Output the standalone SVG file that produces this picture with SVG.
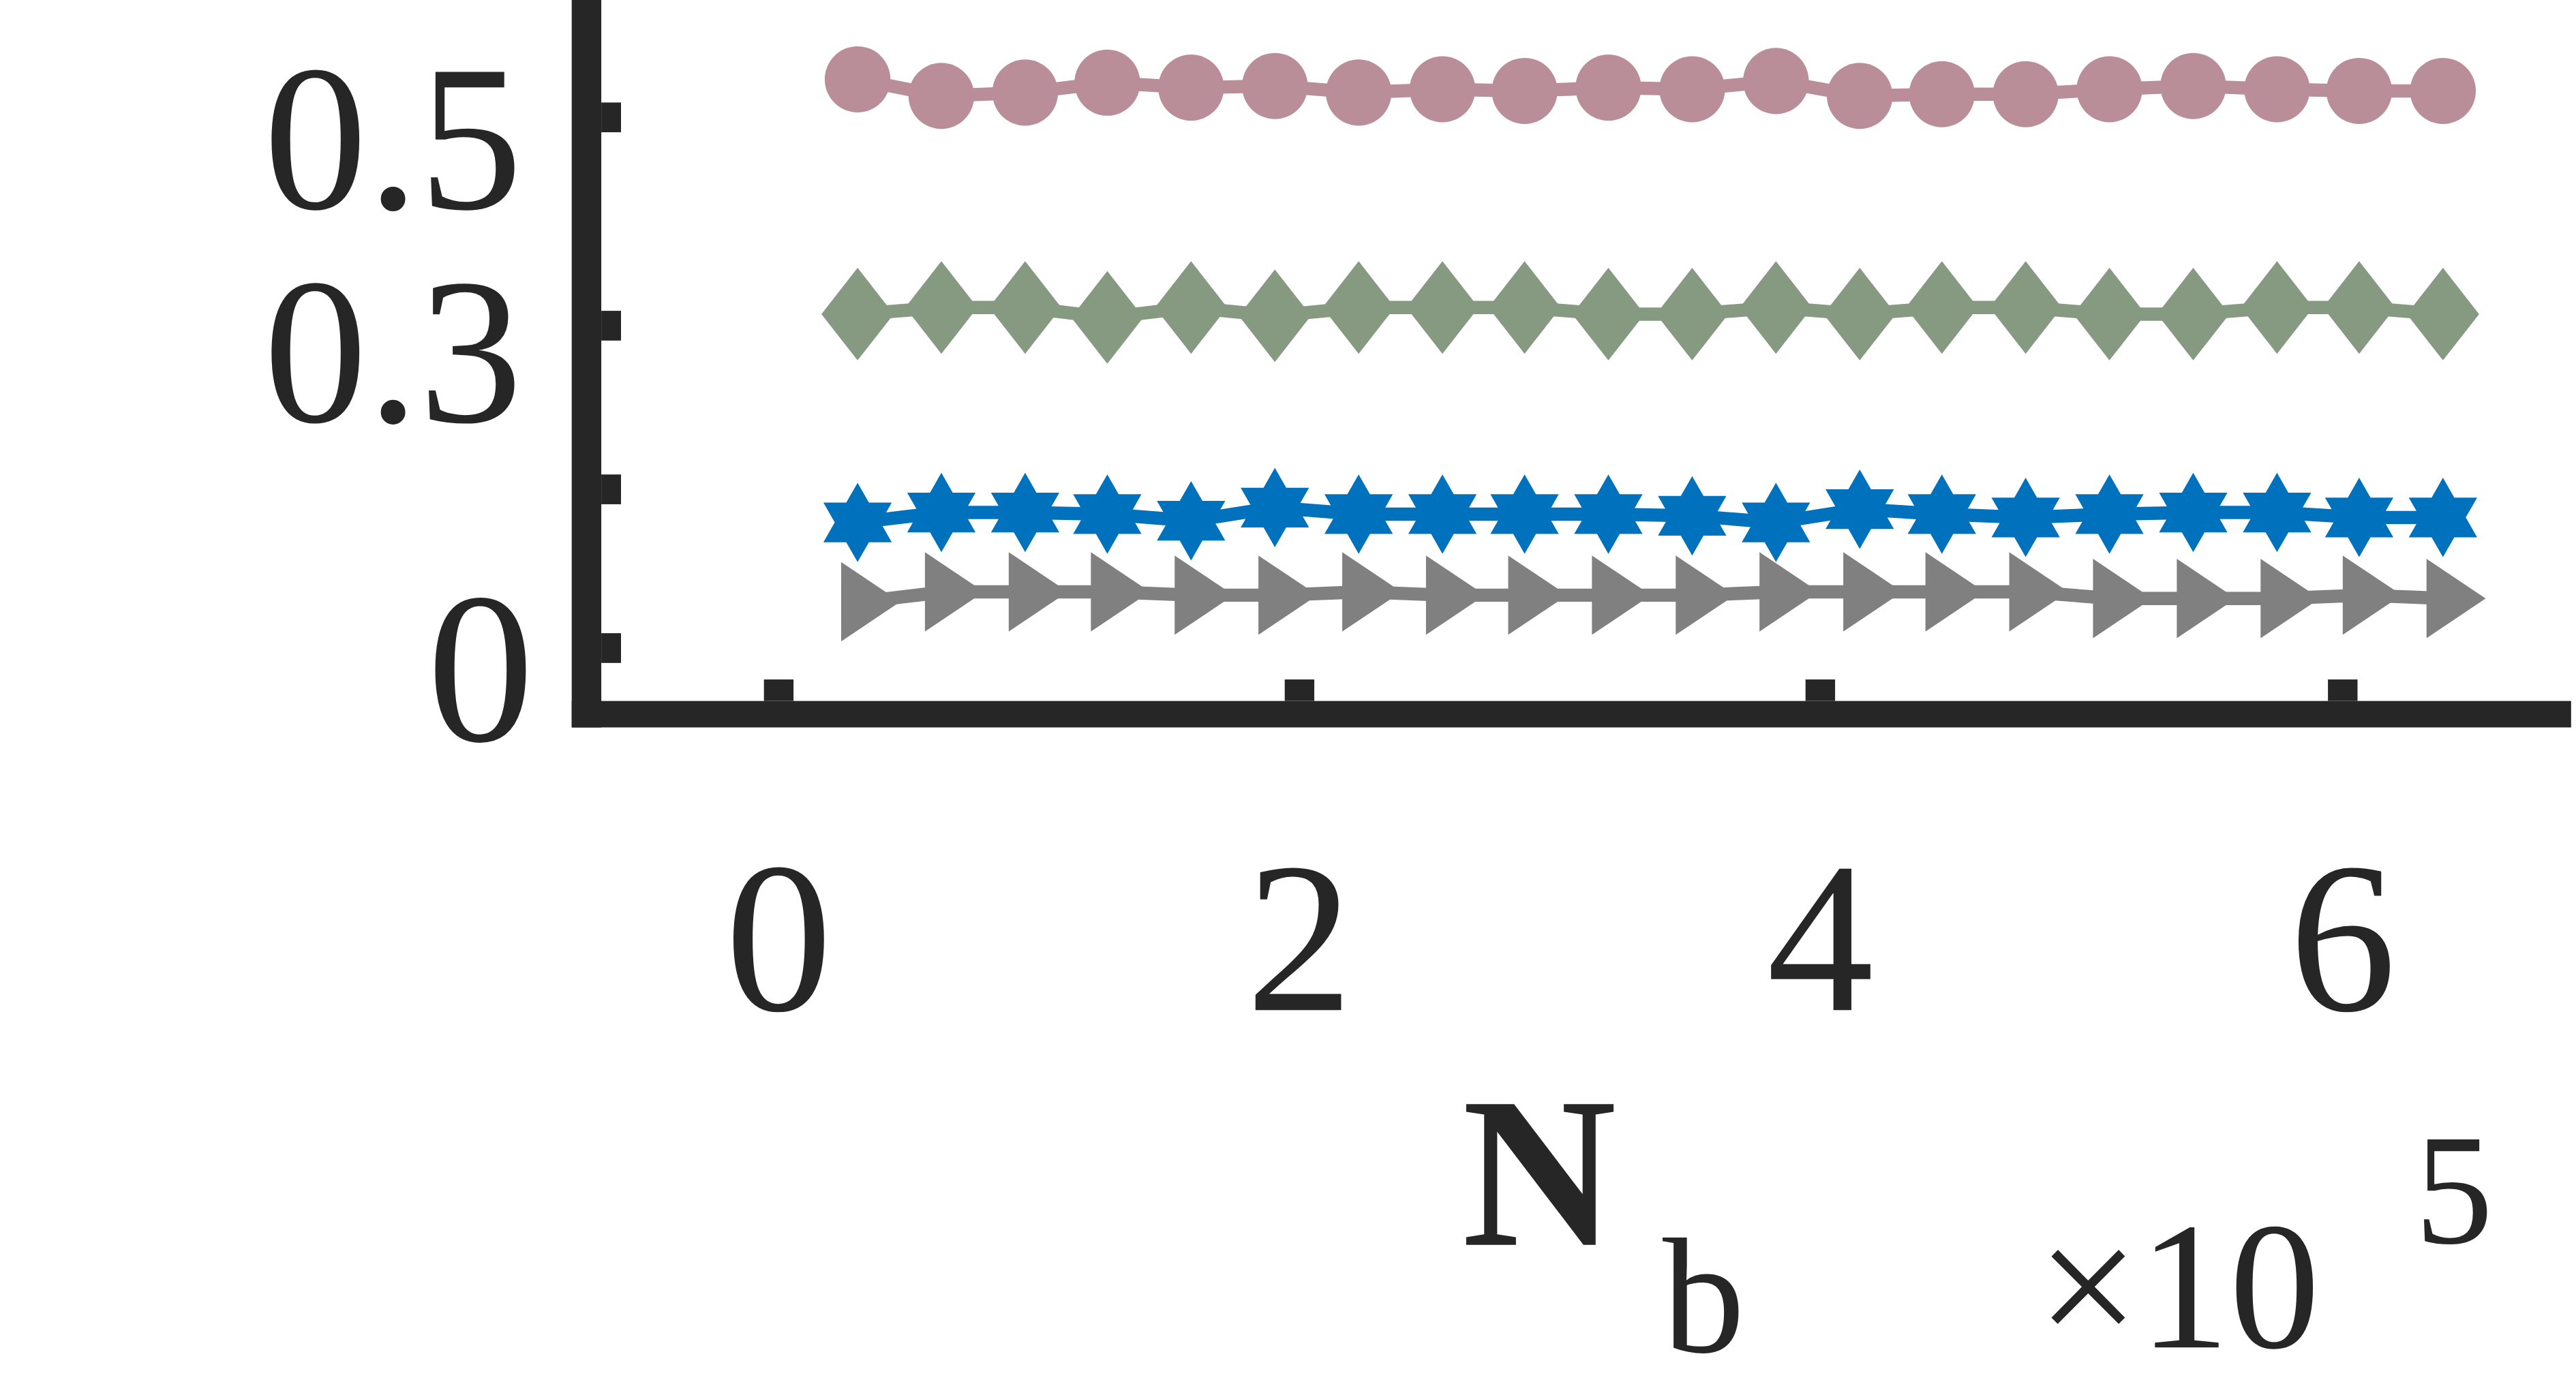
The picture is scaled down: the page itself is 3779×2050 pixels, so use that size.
<svg xmlns="http://www.w3.org/2000/svg" width="3779" height="2050" viewBox="0 0 3779 2050">
<style>
text{font-family:"Liberation Serif","Times New Roman",serif;fill:#262626}
.ax{fill:#262626}
</style>
<defs>
<circle id="mc" r="20" fill="#BA8E99"/>
<polygon id="md" points="0,-28 22,0 0,28 -22,0" fill="#869A82"/>
<polygon id="mh" points="0,-24 6.9,-12 20.8,-12 13.9,0 20.8,12 6.9,12 0,24 -6.9,12 -20.8,12 -13.9,0 -20.8,-12 -6.9,-12" fill="#0072BD"/>
<polygon id="mt" points="-12,-24 24,0 -12,24" fill="#808080"/>
</defs>
<rect width="3779" height="2050" fill="#fff"/>
<g transform="scale(2.4101,2.426)">
<g id="axes">
<rect class="ax" x="348" y="0" width="18" height="440"/>
<rect class="ax" x="348" y="424" width="1217" height="16"/>
<rect class="ax" x="366" y="62" width="12" height="18"/>
<rect class="ax" x="366" y="188" width="12" height="18"/>
<rect class="ax" x="366" y="287" width="12" height="18"/>
<rect class="ax" x="366" y="383" width="12" height="18"/>
<rect class="ax" x="465" y="411" width="18" height="13"/>
<rect class="ax" x="782" y="411" width="18" height="13"/>
<rect class="ax" x="1099" y="411" width="18" height="13"/>
<rect class="ax" x="1417" y="411" width="18" height="13"/>
</g>
<g id="labels">
<text x="318" y="126" font-size="126" text-anchor="end">0.5</text>
<text x="318" y="255" font-size="126" text-anchor="end">0.3</text>
<text x="325" y="448" font-size="130" text-anchor="end">0</text>
<text x="474" y="611" font-size="130" text-anchor="middle">0</text>
<text x="791" y="611" font-size="130" text-anchor="middle">2</text>
<text x="1108" y="611" font-size="130" text-anchor="middle">4</text>
<text x="1426" y="611" font-size="130" text-anchor="middle">6</text>
<text x="890" y="753" font-size="130" font-weight="bold">N</text>
<text x="1012" y="818" font-size="100">b</text>
<text x="1240" y="815" font-size="110">×10</text>
<text x="1470" y="752" font-size="95">5</text>
</g>
<g id="series" stroke-width="8" fill="none">
<polyline stroke="#BA8E99" points="522,48 573,58 624,56 674,50 725,53 776,52 827,56 878,54 928,55 979,53 1030,54 1081,49 1132,58 1182,57 1233,57 1284,54 1335,52 1386,54 1436,55 1487,55"/>
<polyline stroke="#869A82" points="522,190 573,186 624,186 674,192 725,186 776,191 827,186 878,186 928,186 979,190 1030,190 1081,186 1132,190 1182,186 1233,186 1284,190 1335,190 1386,186 1436,186 1487,190"/>
<polyline stroke="#0072BD" points="522,316 573,310 624,310 674,311 725,315 776,307 827,311 878,311 928,311 979,311 1030,312 1081,316 1132,308 1182,311 1233,313 1284,311 1335,310 1386,310 1436,313 1487,313"/>
<polyline stroke="#808080" points="524,364 575,358 626,358 676,358 727,360 778,360 829,358 880,360 930,360 981,360 1032,360 1083,358 1134,358 1184,358 1235,358 1286,362 1337,362 1388,362 1438,360 1489,362"/>
</g>
<g id="markers">
<use href="#mc" x="522" y="48"/><use href="#mc" x="573" y="58"/><use href="#mc" x="624" y="56"/><use href="#mc" x="674" y="50"/><use href="#mc" x="725" y="53"/><use href="#mc" x="776" y="52"/><use href="#mc" x="827" y="56"/><use href="#mc" x="878" y="54"/><use href="#mc" x="928" y="55"/><use href="#mc" x="979" y="53"/><use href="#mc" x="1030" y="54"/><use href="#mc" x="1081" y="49"/><use href="#mc" x="1132" y="58"/><use href="#mc" x="1182" y="57"/><use href="#mc" x="1233" y="57"/><use href="#mc" x="1284" y="54"/><use href="#mc" x="1335" y="52"/><use href="#mc" x="1386" y="54"/><use href="#mc" x="1436" y="55"/><use href="#mc" x="1487" y="55"/>
<use href="#md" x="522" y="190"/><use href="#md" x="573" y="186"/><use href="#md" x="624" y="186"/><use href="#md" x="674" y="192"/><use href="#md" x="725" y="186"/><use href="#md" x="776" y="191"/><use href="#md" x="827" y="186"/><use href="#md" x="878" y="186"/><use href="#md" x="928" y="186"/><use href="#md" x="979" y="190"/><use href="#md" x="1030" y="190"/><use href="#md" x="1081" y="186"/><use href="#md" x="1132" y="190"/><use href="#md" x="1182" y="186"/><use href="#md" x="1233" y="186"/><use href="#md" x="1284" y="190"/><use href="#md" x="1335" y="190"/><use href="#md" x="1386" y="186"/><use href="#md" x="1436" y="186"/><use href="#md" x="1487" y="190"/>
<use href="#mh" x="522" y="316"/><use href="#mh" x="573" y="310"/><use href="#mh" x="624" y="310"/><use href="#mh" x="674" y="311"/><use href="#mh" x="725" y="315"/><use href="#mh" x="776" y="307"/><use href="#mh" x="827" y="311"/><use href="#mh" x="878" y="311"/><use href="#mh" x="928" y="311"/><use href="#mh" x="979" y="311"/><use href="#mh" x="1030" y="312"/><use href="#mh" x="1081" y="316"/><use href="#mh" x="1132" y="308"/><use href="#mh" x="1182" y="311"/><use href="#mh" x="1233" y="313"/><use href="#mh" x="1284" y="311"/><use href="#mh" x="1335" y="310"/><use href="#mh" x="1386" y="310"/><use href="#mh" x="1436" y="313"/><use href="#mh" x="1487" y="313"/>
<use href="#mt" x="524" y="364"/><use href="#mt" x="575" y="358"/><use href="#mt" x="626" y="358"/><use href="#mt" x="676" y="358"/><use href="#mt" x="727" y="360"/><use href="#mt" x="778" y="360"/><use href="#mt" x="829" y="358"/><use href="#mt" x="880" y="360"/><use href="#mt" x="930" y="360"/><use href="#mt" x="981" y="360"/><use href="#mt" x="1032" y="360"/><use href="#mt" x="1083" y="358"/><use href="#mt" x="1134" y="358"/><use href="#mt" x="1184" y="358"/><use href="#mt" x="1235" y="358"/><use href="#mt" x="1286" y="362"/><use href="#mt" x="1337" y="362"/><use href="#mt" x="1388" y="362"/><use href="#mt" x="1438" y="360"/><use href="#mt" x="1489" y="362"/>
</g>
</g>
</svg>
